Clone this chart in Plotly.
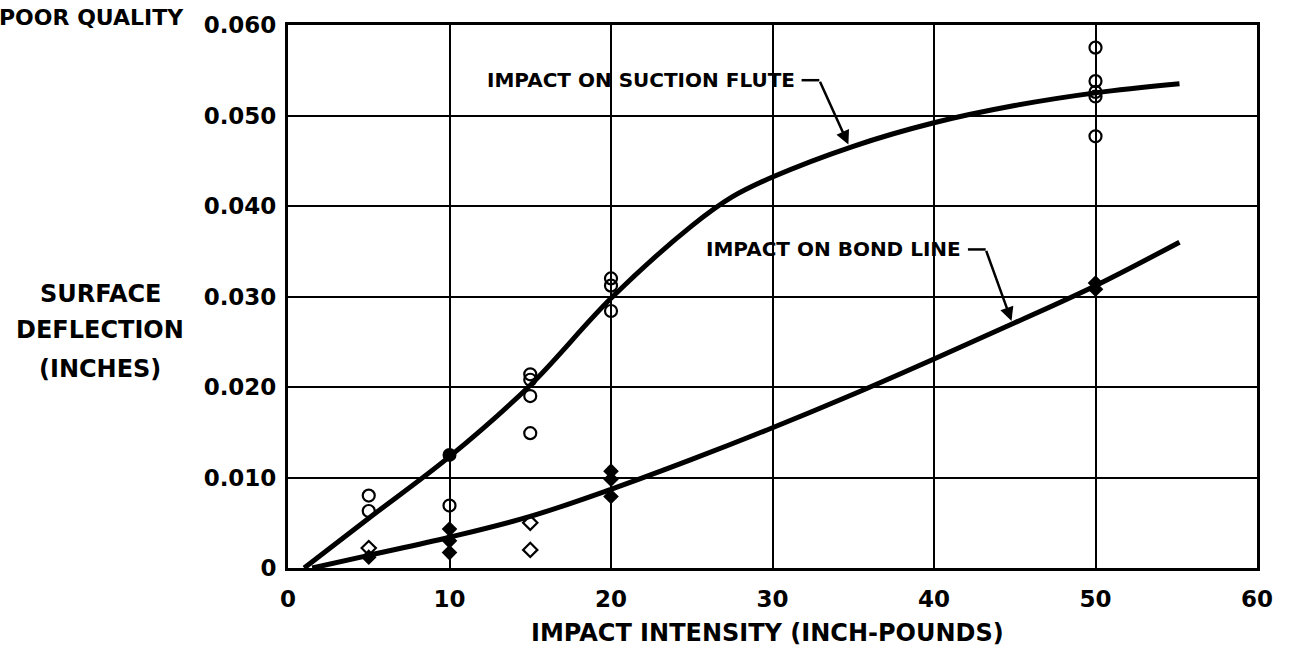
import plotly.graph_objects as go

# Measured deflections (inches) by impact intensity (inch-pounds)
flute_open_x = [5, 5, 10, 15, 15, 15, 15, 20, 20, 20, 50, 50, 50, 50, 50]
flute_open_y = [0.0080, 0.0063, 0.0069, 0.0214, 0.0208, 0.0190, 0.0149,
                0.0320, 0.0312, 0.0284, 0.0575, 0.0538, 0.0526, 0.0521, 0.0477]
flute_solid_x = [10]
flute_solid_y = [0.0125]

bond_open_x = [5, 15, 15]
bond_open_y = [0.0022, 0.0050, 0.0020]
bond_solid_x = [5, 10, 10, 10, 20, 20, 20, 50, 50]
bond_solid_y = [0.0012, 0.0043, 0.0030, 0.0017, 0.0107, 0.0098, 0.0079, 0.0315, 0.0308]

# Faired curves through the data
flute_curve_x = [1.0, 5, 10, 15, 20, 25, 27.5, 30, 35, 40, 45, 50, 55.2]
flute_curve_y = [0.0, 0.0055, 0.0123, 0.0202, 0.0298, 0.0378, 0.0410, 0.0432,
                 0.0466, 0.0492, 0.0511, 0.0525, 0.0535]
bond_curve_x = [1.5, 5, 10, 15, 20, 25, 30, 35, 40, 45, 50, 55.2]
bond_curve_y = [0.0, 0.0014, 0.0034, 0.0057, 0.0087, 0.0120, 0.0155, 0.0192,
                0.0231, 0.0271, 0.0312, 0.0360]

x_ticks = [0, 10, 20, 30, 40, 50, 60]
y_ticks = [0, 0.010, 0.020, 0.030, 0.040, 0.050, 0.060]
y_tick_text = ["0", "0.010", "0.020", "0.030", "0.040", "0.050", "0.060"]

FONT = "DejaVu Sans"
INK = "black"

fig = go.Figure()

for cx, cy in ((flute_curve_x, flute_curve_y), (bond_curve_x, bond_curve_y)):
    fig.add_trace(go.Scatter(x=cx, y=cy, mode="lines",
                             line=dict(color=INK, width=5, shape="spline", smoothing=1.0),
                             hoverinfo="skip"))

fig.add_trace(go.Scatter(x=flute_open_x, y=flute_open_y, mode="markers",
                         marker=dict(symbol="circle-open", size=12, color=INK,
                                     line=dict(width=2.2, color=INK))))
fig.add_trace(go.Scatter(x=flute_solid_x, y=flute_solid_y, mode="markers",
                         marker=dict(symbol="circle", size=14, color=INK)))
fig.add_trace(go.Scatter(x=bond_open_x, y=bond_open_y, mode="markers",
                         marker=dict(symbol="diamond-open", size=11, color=INK,
                                     line=dict(width=2.2, color=INK))))
fig.add_trace(go.Scatter(x=bond_solid_x, y=bond_solid_y, mode="markers",
                         marker=dict(symbol="diamond", size=12, color=INK)))

axis_common = dict(showline=True, linewidth=3, linecolor=INK, mirror=True,
                   showgrid=True, gridcolor=INK, gridwidth=2, zeroline=False,
                   ticks="", tickfont=dict(family=FONT, size=23, color=INK, weight="bold"))

fig.update_xaxes(range=[0, 60], tickvals=x_ticks, ticklabelstandoff=8, **axis_common)
fig.update_yaxes(range=[0, 0.060], tickvals=y_ticks, ticktext=y_tick_text,
                 ticklabelstandoff=4, **axis_common)

label_font = dict(family=FONT, size=24, color=INK, weight="bold")
note_font = dict(family=FONT, size=20, color=INK, weight="bold")

PLOT_W, PLOT_H, LEFT, BOTTOM = 969, 550, 288, 568

def px_x(p):
    return (p - LEFT) / PLOT_W

def px_y(p):
    return (BOTTOM - p) / PLOT_H

annotations = [
    dict(text="IMPACT INTENSITY (INCH-POUNDS)", xref="paper", yref="paper",
         x=px_x(767), y=px_y(634), xanchor="center", yanchor="middle", showarrow=False,
         font=label_font),
    dict(text="SURFACE", xref="paper", yref="paper", x=px_x(100), y=px_y(290),
         xanchor="center", yanchor="middle", showarrow=False, font=label_font),
    dict(text="DEFLECTION", xref="paper", yref="paper", x=px_x(100), y=px_y(327),
         xanchor="center", yanchor="middle", showarrow=False, font=label_font),
    dict(text="(INCHES)", xref="paper", yref="paper", x=px_x(100), y=px_y(366),
         xanchor="center", yanchor="middle", showarrow=False, font=label_font),
    dict(text="POOR QUALITY", xref="paper", yref="paper", x=px_x(186),
         y=px_y(10), xanchor="right", yanchor="middle", showarrow=False,
         font=dict(family=FONT, size=22, color=INK, weight="bold")),
    dict(text="IMPACT ON SUCTION FLUTE", x=31.5, y=0.0539, xanchor="right",
         yanchor="middle", showarrow=False, font=note_font),
    dict(text="IMPACT ON BOND LINE", x=41.8, y=0.0352, xanchor="right",
         yanchor="middle", showarrow=False, font=note_font),
    # leader arrows onto the curves
    dict(x=34.7, y=0.0468, ax=32.9, ay=0.0539, axref="x", ayref="y", text="",
         showarrow=True, arrowhead=2, arrowsize=1.1, arrowwidth=2.5, arrowcolor=INK),
    dict(x=44.8, y=0.0273, ax=43.2, ay=0.0352, axref="x", ayref="y", text="",
         showarrow=True, arrowhead=2, arrowsize=1.1, arrowwidth=2.5, arrowcolor=INK),
]

shapes = [
    dict(type="line", x0=31.8, y0=0.0539, x1=32.9, y1=0.0539, xref="x", yref="y",
         line=dict(color=INK, width=2.5)),
    dict(type="line", x0=42.1, y0=0.0352, x1=43.2, y1=0.0352, xref="x", yref="y",
         line=dict(color=INK, width=2.5)),
]

fig.update_layout(width=1289, height=660, margin=dict(l=288, r=32, t=18, b=92),
                  plot_bgcolor="white", paper_bgcolor="white", showlegend=False,
                  annotations=annotations, shapes=shapes)

fig.write_html("out.html")
